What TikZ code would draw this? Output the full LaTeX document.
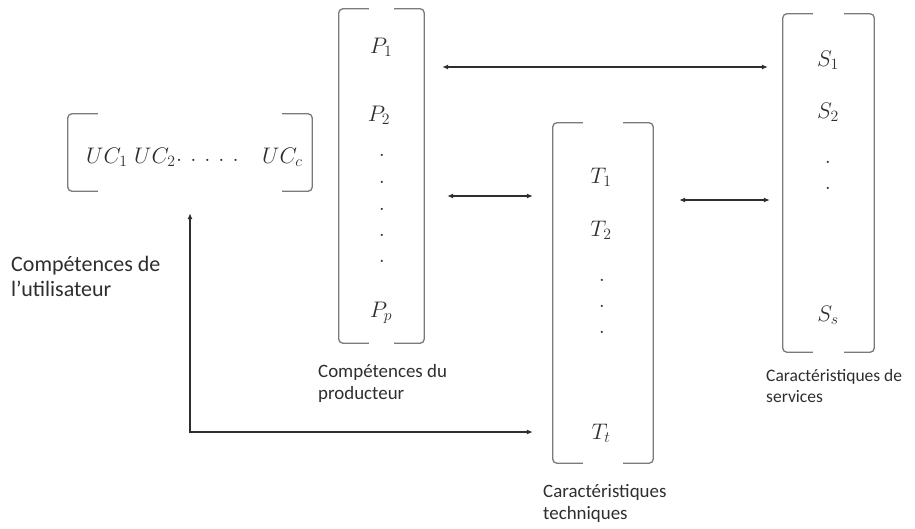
\RequirePackage{fix-cm}
\documentclass[tikz,border=0pt]{standalone}
\usepackage{fontspec}
\setmainfont{Carlito}
\usetikzlibrary{arrows.meta}
\definecolor{brk}{HTML}{7A7A7A}
\definecolor{ink}{HTML}{2E2E2E}
\newcommand\bracketsof[1]{%
  \draw[brkline] ([xshift=30pt]#1.north west) -- (#1.north west) -- (#1.south west) -- ([xshift=30pt]#1.south west);
  \draw[brkline] ([xshift=-30pt]#1.north east) -- (#1.north east) -- (#1.south east) -- ([xshift=-30pt]#1.south east);}
\begin{document}
\begin{tikzpicture}[x=1pt,y=-1pt,
  mbox/.style={draw=none,inner sep=0pt},
  brkline/.style={draw=brk,line width=1.3pt,rounded corners=4pt},
  mth/.style={font=\fontsize{22.5}{26}\selectfont,text=ink,inner sep=0pt},
  lbl/.style={font=\fontsize{18.9}{22}\selectfont,text=ink,align=left,inner sep=0pt,anchor=north west},
  arr/.style={draw=ink,line width=1.1pt,{Latex[length=6pt,width=5pt]}-{Latex[length=6pt,width=5pt]}}]
\useasboundingbox (0,0) rectangle (915,528);

% matrix boxes
\node[mbox,minimum width=244pt,minimum height=77pt] (UC) at (190,152.5) {};
\node[mbox,minimum width=85pt,minimum height=334pt] (P) at (381.5,176) {};
\node[mbox,minimum width=100pt,minimum height=340pt] (T) at (603,293) {};
\node[mbox,minimum width=91pt,minimum height=338pt] (S) at (828.5,183) {};
\bracketsof{UC}
\bracketsof{P}
\bracketsof{T}
\bracketsof{S}

% UC row
\node[mth,anchor=west] (uc1) at (86,157) {$UC_1$};
\node[mth,anchor=west] (uc2) at (134,157) {$UC_2$};
\node[mth,anchor=west] (ucd) at (176,160) {$.\hspace{8pt}.\hspace{8pt}.\hspace{8pt}.\hspace{8pt}.$};
\node[mth,anchor=west] (ucc) at (262,157) {$UC_c$};

% P column
\node[mth] (p1) at (381,47) {$P_1$};
\node[mth] (p2) at (379,115) {$P_2$};
\node[mth] (pd1) at (382,155) {$.$};
\node[mth] (pd2) at (382,182) {$.$};
\node[mth] (pd3) at (382,209) {$.$};
\node[mth] (pd4) at (382,235) {$.$};
\node[mth] (pd5) at (382,261) {$.$};
\node[mth] (pp) at (381,313) {$P_p$};

% T column
\node[mth] (t1) at (601,177) {$T_1$};
\node[mth] (t2) at (601,230) {$T_2$};
\node[mth] (td1) at (602,280) {$.$};
\node[mth] (td2) at (602,306) {$.$};
\node[mth] (td3) at (602,332) {$.$};
\node[mth] (tt) at (601,433) {$T_t$};

% S column
\node[mth] (s1) at (828,60) {$S_1$};
\node[mth] (s2) at (828,112) {$S_2$};
\node[mth] (sd1) at (828,162) {$.$};
\node[mth] (sd2) at (828,188) {$.$};
\node[mth] (ss) at (828,315) {$S_s$};

% labels
\node[lbl,font=\fontsize{22}{25.5}\selectfont] (lu) at (11,256) {Compétences de\\l’utilisateur};
\node[lbl] (lp) at (318,364) {Compétences du\\producteur};
\node[lbl] (lt) at (543,484.5) {Caractéristiques\\techniques};
\node[lbl,font=\fontsize{17.5}{21}\selectfont] (ls) at (766,369) {Caractéristiques de\\services};

% connectors
\draw[arr,shorten <=18pt,shorten >=15pt] (P.east |- 0,67) -- (S.west |- 0,67);
\draw[arr,shorten <=23pt,shorten >=20pt] (P.east |- 0,196) -- (T.west |- 0,196);
\draw[arr,shorten <=26pt,shorten >=13pt] (T.east |- 0,200) -- (S.west |- 0,200);
\draw[arr,shorten <=22pt,shorten >=20pt] (UC.south) |- (T.west |- 0,432);
\end{tikzpicture}
\end{document}
